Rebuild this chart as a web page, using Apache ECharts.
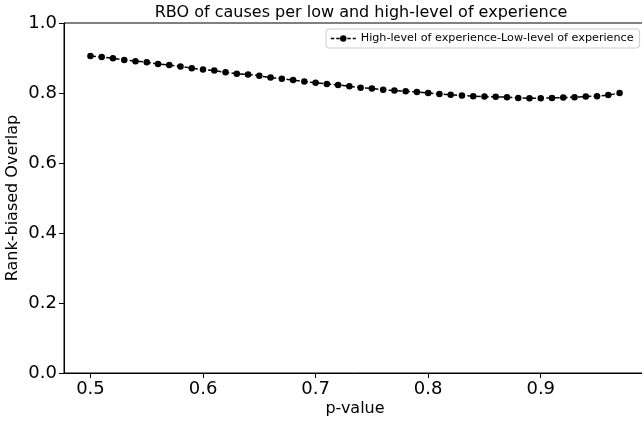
<!DOCTYPE html>
<html><head><meta charset="utf-8">
<script src="https://cdn.jsdelivr.net/npm/echarts@6/dist/echarts.min.js"></script>
<style>html,body{margin:0;padding:0;background:#fff}#c{width:642px;height:423px}</style>
</head><body><div id="c"></div>
<script>
const pValues = [0.50,0.51,0.52,0.53,0.54,0.55,0.56,0.57,0.58,0.59,0.60,0.61,0.62,0.63,0.64,0.65,0.66,0.67,0.68,0.69,0.70,0.71,0.72,0.73,0.74,0.75,0.76,0.77,0.78,0.79,0.80,0.81,0.82,0.83,0.84,0.85,0.86,0.87,0.88,0.89,0.90,0.91,0.92,0.93,0.94,0.95,0.96,0.97];
const rbo = [0.906,0.903,0.899,0.894,0.891,0.888,0.883,0.880,0.876,0.871,0.867,0.864,0.859,0.855,0.853,0.849,0.844,0.841,0.837,0.833,0.829,0.826,0.823,0.819,0.815,0.813,0.809,0.807,0.805,0.803,0.800,0.797,0.795,0.793,0.791,0.790,0.789,0.788,0.786,0.785,0.785,0.786,0.787,0.788,0.790,0.791,0.794,0.800];
const xTicks = [0.5,0.6,0.7,0.8,0.9];
const seriesName = 'High-level of experience-Low-level of experience';
const chart = echarts.init(document.getElementById('c'));
const font = 'DejaVu Sans';
chart.setOption({
  animation:false,
  textStyle:{fontFamily:font},
  title:{text:'RBO of causes per low and high-level of experience',left:356,textAlign:'center',top:0,
    textStyle:{fontFamily:font,fontSize:16,fontWeight:'normal',color:'#000'}},
  legend:{top:29,left:326,padding:[4,6,4,4],borderColor:'#ccc',borderWidth:1,borderRadius:3,
    itemWidth:25,itemHeight:8,itemGap:6,
    lineStyle:{type:[3.5,2],width:1.5,color:'#000'},
    itemStyle:{color:'#000'},
    textStyle:{fontFamily:font,fontSize:11.2,color:'#000'},data:[seriesName]},
  grid:{left:64,top:23,width:582,height:350,outerBoundsMode:'none',containLabel:false,
    show:true,borderColor:'#000',borderWidth:1,backgroundColor:'transparent'},
  xAxis:{type:'value',min:0.4765,max:0.9935,
    name:'p-value',nameLocation:'middle',nameGap:28,nameMoveOverlap:false,nameTextStyle:{fontFamily:font,fontSize:16,color:'#000'},
    axisLine:{lineStyle:{color:'#000',width:1}},
    axisTick:{show:true,length:5,lineStyle:{color:'#000'},customValues:xTicks},
    axisLabel:{fontFamily:font,fontSize:18,color:'#000',margin:7,customValues:xTicks,formatter:v=>v.toFixed(1)},
    splitLine:{show:false}},
  yAxis:{type:'value',min:0,max:1,interval:0.2,
    name:'Rank-biased Overlap',nameLocation:'middle',nameGap:43,nameMoveOverlap:false,nameTextStyle:{fontFamily:font,fontSize:16,color:'#000'},
    axisLine:{show:true,lineStyle:{color:'#000',width:1}},
    axisTick:{show:true,length:5,lineStyle:{color:'#000'}},
    axisLabel:{fontFamily:font,fontSize:18,color:'#000',margin:7,formatter:v=>v.toFixed(1)},
    splitLine:{show:false}},
  series:[{name:seriesName,type:'line',data:pValues.map((p,i)=>[p,rbo[i]]),
    symbol:'circle',symbolSize:6.5,showAllSymbol:true,
    lineStyle:{color:'#000',width:1.5,type:[5.5,2.4]},itemStyle:{color:'#000'}}]
});
</script></body></html>
